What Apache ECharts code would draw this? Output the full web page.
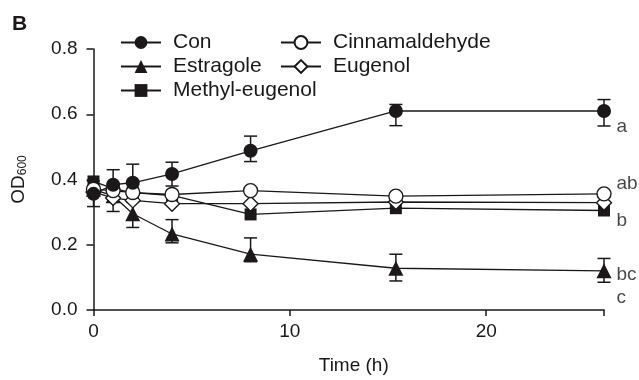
<!DOCTYPE html>
<html>
<head>
<meta charset="utf-8">
<script src="https://cdn.jsdelivr.net/npm/echarts@6/dist/echarts.min.js"></script>
<style>
	html, body { margin: 0; padding: 0; background: #fff; }
	#main { width: 639px; height: 380px; }
</style>
</head>
<body>
<div id="main"></div>
<script>
// sampling times (h)
var times = [0, 1, 2, 4, 8, 15.4, 26];

// OD600 means
var con = [0.356, 0.384, 0.39, 0.417, 0.488, 0.61, 0.61];
var estragole = [0.37, 0.35, 0.295, 0.233, 0.171, 0.128, 0.12];
var methylEugenol = [0.394, 0.372, 0.36, 0.351, 0.293, 0.312, 0.305];
var cinnamaldehyde = [0.37, 0.366, 0.36, 0.354, 0.366, 0.349, 0.356];
var eugenol = [0.362, 0.343, 0.336, 0.326, 0.326, 0.331, 0.329];

// error bars [time, low, high]
var conErr = [[0, 0.317, 0.395], [1, 0.345, 0.43], [2, 0.338, 0.447], [4, 0.38, 0.453], [8, 0.455, 0.533], [15.4, 0.565, 0.63], [26, 0.564, 0.645]];
var estragoleErr = [[2, 0.253, 0.33], [4, 0.206, 0.277], [8, 0.148, 0.221], [15.4, 0.089, 0.171], [26, 0.085, 0.158]];
var eugenolErr = [[1, 0.302, 0.36]];

// significance letters at the end of the curves
var sigLetters = ['a', 'ab', 'b', 'bc', 'c'];
var sigValues = [0.563, 0.387, 0.274, 0.107, 0.037];

var yTicks = [0, 0.2, 0.4, 0.6, 0.8];

var ink = '#1a1818';
var font = 'Liberation Sans, Arial, sans-serif';
var fs = 19;

function pairs(vals) {
	var out = [];
	for (var i = 0; i < vals.length; i++) {
		out.push([times[i], vals[i]]);
	}
	return out;
}

function errSeries(data) {
	return {
		type: 'custom',
		silent: true,
		z: 1,
		data: data,
		renderItem: function(params, api) {
			var x = api.value(0);
			var lo = api.coord([x, api.value(1)]);
			var hi = api.coord([x, api.value(2)]);
			var w = 6.5;
			var style = { stroke: ink, lineWidth: 1.5 };
			return {
				type: 'group',
				children: [
					{ type: 'line', shape: { x1: lo[0], y1: lo[1], x2: hi[0], y2: hi[1] }, style: style },
					{ type: 'line', shape: { x1: lo[0] - w, y1: lo[1], x2: lo[0] + w, y2: lo[1] }, style: style },
					{ type: 'line', shape: { x1: hi[0] - w, y1: hi[1], x2: hi[0] + w, y2: hi[1] }, style: style }
				]
			};
		}
	};
}

function lineSeries(name, vals, symbol, size, open) {
	return {
		name: name,
		type: 'line',
		z: 3,
		data: pairs(vals),
		symbol: symbol,
		symbolSize: size,
		showAllSymbol: true,
		lineStyle: { color: ink, width: 1.3 },
		itemStyle: {
			color: open ? '#fff' : ink,
			borderColor: ink,
			borderWidth: open ? 1.4 : 0
		},
		emphasis: { disabled: true }
	};
}

function legendBlock(left, names) {
	return {
		orient: 'vertical',
		left: left,
		top: 27,
		itemWidth: 40,
		itemHeight: 16,
		itemGap: 3,
		selectedMode: false,
		textStyle: { fontSize: 21, color: ink, fontFamily: font, lineHeight: 20, padding: [0, 0, 0, 7] },
		data: names
	};
}

var sigData = [];
for (var i = 0; i < sigLetters.length; i++) {
	sigData.push([26, sigValues[i], sigLetters[i]]);
}

var myChart = echarts.init(document.getElementById('main'));
var option = {
	animation: false,
	textStyle: { fontFamily: font, color: ink },
	grid: { left: 91, right: 35, top: 49, bottom: 68, containLabel: false },
	graphic: [{
		type: 'text',
		left: 12,
		top: 14,
		style: { text: 'B', font: 'bold 21px ' + font, fill: ink }
	}],
	legend: [
		legendBlock(115, ['Con', 'Estragole', 'Methyl-eugenol']),
		legendBlock(275, ['Cinnamaldehyde', 'Eugenol'])
	],
	xAxis: {
		type: 'value',
		min: 0,
		max: 26,
		interval: 10,
		name: 'Time (h)',
		nameLocation: 'middle',
		nameGap: 46,
		nameTextStyle: { fontSize: fs, color: ink, padding: [0, 0, 0, 10] },
		axisLine: { lineStyle: { color: ink, width: 1.5 } },
		axisTick: { length: 6, lineStyle: { color: ink, width: 1.5 } },
		axisLabel: {
			fontSize: fs,
			color: ink,
			margin: 12,
			formatter: function(v) {
				return v % 10 === 0 ? String(v) : '';
			}
		},
		splitLine: { show: false }
	},
	yAxis: {
		type: 'value',
		min: yTicks[0],
		max: yTicks[yTicks.length - 1],
		interval: 0.2,
		name: '{a|OD}{b|600}',
		nameLocation: 'middle',
		nameGap: 64,
		nameRotate: 90,
		nameTextStyle: {
			rich: {
				a: { fontSize: fs, color: ink, fontFamily: font, lineHeight: 22 },
				b: { fontSize: 12, color: ink, fontFamily: font, lineHeight: 22, padding: [9, 0, 0, 0] }
			}
		},
		axisLine: { show: true, lineStyle: { color: ink, width: 1.5 } },
		axisTick: { show: true, length: 7, lineStyle: { color: ink, width: 1.5 } },
		axisLabel: {
			fontSize: fs,
			color: ink,
			margin: 16,
			formatter: function(v) {
				return v.toFixed(1);
			}
		},
		splitLine: { show: false }
	},
	series: [
		errSeries(conErr),
		errSeries(estragoleErr),
		errSeries(eugenolErr),
		lineSeries('Estragole', estragole, 'triangle', 15, false),
		lineSeries('Methyl-eugenol', methylEugenol, 'rect', 12, false),
		lineSeries('Eugenol', eugenol, 'diamond', 15, true),
		lineSeries('Cinnamaldehyde', cinnamaldehyde, 'circle', 14, true),
		lineSeries('Con', con, 'circle', 14, false),
		{
			type: 'scatter',
			silent: true,
			z: 5,
			data: sigData,
			symbolSize: 1,
			itemStyle: { color: 'rgba(0,0,0,0)' },
			label: {
				show: true,
				position: 'right',
				distance: 12,
				fontSize: fs,
				color: ink,
				fontFamily: font,
				formatter: function(p) {
					return p.value[2];
				}
			}
		}
	]
};
myChart.setOption(option);
</script>
</body>
</html>
